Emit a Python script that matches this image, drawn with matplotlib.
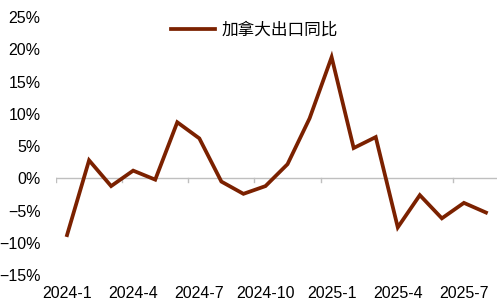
import matplotlib
matplotlib.use("Agg")
from matplotlib import pyplot as plt
from matplotlib.ticker import FixedLocator, PercentFormatter

# Canada export growth, yoy (%)
months = ["2024-1", "2024-2", "2024-3", "2024-4", "2024-5", "2024-6", "2024-7",
          "2024-8", "2024-9", "2024-10", "2024-11", "2024-12", "2025-1", "2025-2",
          "2025-3", "2025-4", "2025-5", "2025-6", "2025-7", "2025-8"]
export_yoy = [-8.8, 2.8, -1.2, 1.2, -0.2, 8.7, 6.2, -0.5, -2.4, -1.2,
              2.2, 9.3, 18.8, 4.7, 6.4, -7.6, -2.6, -6.2, -3.8, -5.3]
series_name = "加拿大出口同比"

plt.rcParams['font.family'] = ['Liberation Sans', 'Noto Sans CJK SC', 'DejaVu Sans']

fig = plt.figure(figsize=(5, 3.06), dpi=100)
ax = fig.add_axes([0.112, 0.101, 0.882, 0.843])

x = list(range(len(months)))
ax.plot(x, export_yoy, color='#7B2100', linewidth=2.7, solid_joinstyle='miter',
        label=series_name)

ax.axhline(0, color='#BFBFBF', linewidth=1, zorder=0)

ax.set_xlim(-0.5, len(months) - 0.5)
ax.set_ylim(-15, 25)
ax.set_yticks(range(-15, 26, 5))
ax.yaxis.set_major_formatter(PercentFormatter(decimals=0))

ax.set_xticks(x[::3])
ax.set_xticklabels(months[::3])
ax.tick_params(axis='x', length=0, pad=8, labelsize=11.5)
ax.tick_params(axis='y', length=0, pad=11, labelsize=11.5)

for s in ax.spines.values():
    s.set_visible(False)

# small tick marks on the zero line between category groups
for xb in [i - 0.5 for i in x[::3]]:
    ax.plot([xb, xb], [0, -0.6], color='#BFBFBF', linewidth=1, zorder=0)

ax.legend(loc='upper center', bbox_to_anchor=(0.45, 1.04), frameon=False,
          fontsize=12, handlelength=2.6, handletextpad=0.4)

plt.savefig("out.png", dpi=100)
